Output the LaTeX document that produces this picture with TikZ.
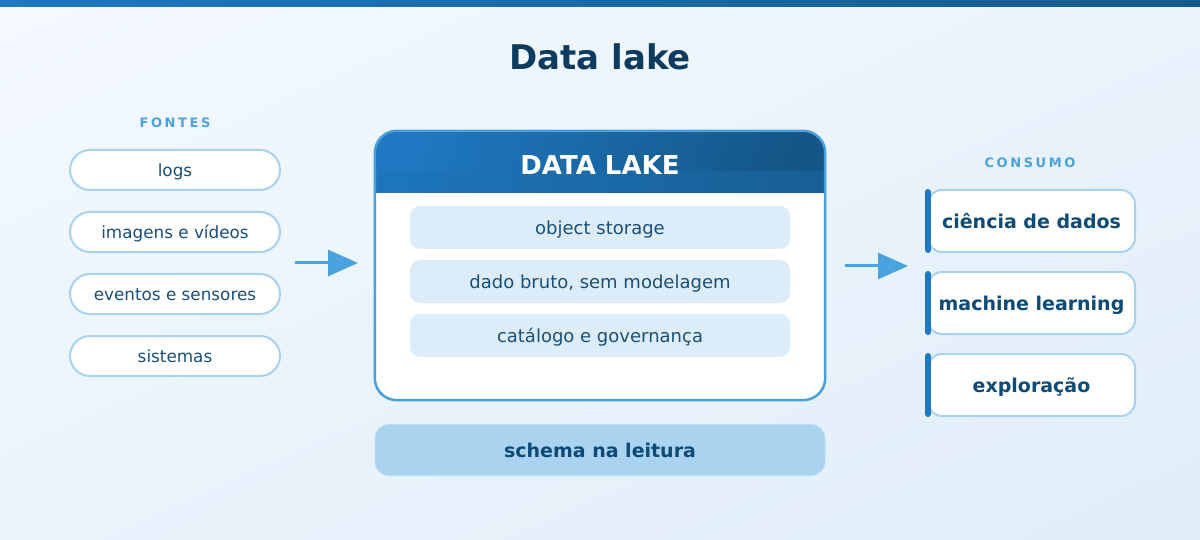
\documentclass[tikz,border=0pt]{standalone}
\usepackage{fontspec}
\setmainfont{DejaVu Sans}
\usetikzlibrary{arrows.meta,calc,shadings}
\definecolor{bgTL}{HTML}{F4F9FF}
\definecolor{bgMid}{HTML}{EAF3FC}
\definecolor{bgBR}{HTML}{E0EDF8}
\definecolor{barL}{HTML}{1F78C1}
\definecolor{barR}{HTML}{155A8A}
\definecolor{titleC}{HTML}{0D3B5F}
\definecolor{txtC}{HTML}{1B4F78}
\definecolor{boldC}{HTML}{0D4A75}
\definecolor{accentL}{HTML}{4AA3DF}
\definecolor{pillB}{HTML}{A9D2F0}
\definecolor{innerF}{HTML}{DCEDF9}
\definecolor{lakeB}{HTML}{4A9FD9}
\definecolor{schemaF}{HTML}{AAD3F0}
\definecolor{schemaB}{HTML}{BDDDF4}
\definecolor{hdrL}{HTML}{1F78C1}
\definecolor{hdrR}{HTML}{145687}
\definecolor{bandL}{HTML}{1E76BD}
\definecolor{bandR}{HTML}{175E93}
\definecolor{stripe}{HTML}{1F78C1}
\begin{document}
\begin{tikzpicture}[x=1pt,y=-1pt,
  pill/.style={draw=pillB, line width=2pt, fill=white, rounded corners=20pt,
    minimum width=210pt, minimum height=40pt, text=txtC, inner sep=0pt,
    text height=14.8pt, text depth=1.3pt,
    font=\fontsize{16.8}{20}\selectfont},
  item/.style={fill=innerF, rounded corners=10pt, minimum width=380pt,
    minimum height=43pt, text=txtC, inner sep=0pt,
    text height=15.8pt, text depth=1.4pt, font=\fontsize{18}{21}\selectfont},
  card/.style={draw=pillB, line width=2pt, fill=white, rounded corners=14pt,
    minimum width=207pt, minimum height=62pt, text=boldC, inner sep=0pt,
    text height=16.7pt, text depth=1.5pt,
    font=\fontsize{19}{23}\selectfont\bfseries},
  colcaption/.style={text=accentL, font=\fontsize{13}{15}\selectfont\bfseries\addfontfeature{LetterSpace=20}},
  flow/.style={draw=accentL, line width=3pt, -{Triangle[length=30pt,width=26pt]}, accentL},
  stripebar/.style={draw=stripe, line width=6pt, line cap=round}
]
\useasboundingbox (0,0) rectangle (1200,540);
% background
\shade[upper left=bgTL, upper right=bgMid, lower left=bgMid, lower right=bgBR] (0,0) rectangle (1200,540);
\shade[left color=barL, right color=barR] (0,0) rectangle (1200,7);
% title
\node[font=\fontsize{34}{40}\selectfont\bfseries, text=titleC] (title) at (600,57) {Data lake};
% sources
\node[colcaption] (fontes) at (175,123) {FONTES};
\node[pill] (logs) at (175,170) {logs};
\node[pill] (img) at (175,232) {imagens e vídeos};
\node[pill] (evt) at (175,294) {eventos e sensores};
\node[pill] (sis) at (175,356) {sistemas};
% lake box
\node[fill=white, rounded corners=22pt, minimum width=450pt, minimum height=269pt, inner sep=0pt] (lake) at (600,265.5) {};
\begin{scope}
  \clip[rounded corners=22pt] (375,131) rectangle (825,400);
  \shade[left color=hdrL, right color=hdrR, shading angle=75] (375,131) rectangle (825,193);
  \shade[left color=bandL, right color=bandR] (375,172) rectangle (825,193);
\end{scope}
\draw[lakeB, line width=2.5pt, rounded corners=22pt] (lake.north west) rectangle (lake.south east);
\node[text=white, font=\fontsize{26}{30}\selectfont\bfseries] (laketitle) at (600,165) {DATA LAKE};
\node[item] (obj) at (600,227.5) {object storage};
\node[item] (raw) at (600,281.5) {dado bruto, sem modelagem};
\node[item] (cat) at (600,335.5) {catálogo e governança};
% schema
\node[fill=schemaF, draw=schemaB, line width=1pt, rounded corners=14pt, minimum width=450pt,
  minimum height=51pt, inner sep=0pt, text=boldC, font=\fontsize{19}{23}\selectfont\bfseries] (schema) at (600,450) {schema na leitura};
% consumers
\node[colcaption] (consumo) at (1030,163) {CONSUMO};
\node[card] (c1) at (1031.5,221) {ciência de dados};
\node[card] (c2) at (1031.5,303) {machine learning};
\node[card] (c3) at (1031.5,385) {exploração};
\foreach \c in {c1,c2,c3}{
  \draw[stripebar] ($(\c.north west)+(1,3)$) -- ($(\c.south west)+(1,-3)$);
}
% arrows
\coordinate (a1s) at (295,263);
\coordinate (a1e) at (358,263);
\coordinate (a2s) at (845,266);
\coordinate (a2e) at (908,266);
\draw[flow] (a1s) -- (a1e);
\draw[flow] (a2s) -- (a2e);
\end{tikzpicture}
\end{document}
